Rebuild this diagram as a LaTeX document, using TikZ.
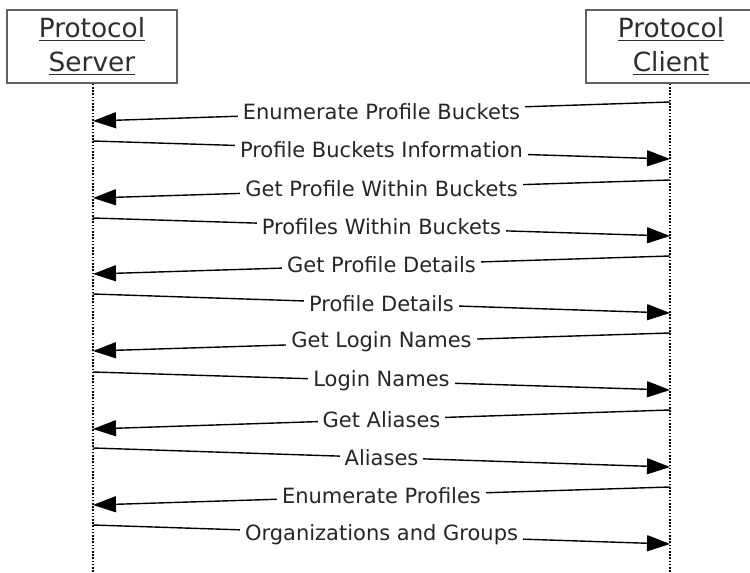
\documentclass[tikz,border=0pt]{standalone}
\usepackage{fontspec}
\setmainfont{DejaVu Sans}
\usetikzlibrary{arrows.meta}
\begin{document}
\begin{tikzpicture}[x=0.5pt,y=-0.5pt,
  actor/.style={draw=black!62,line width=0.75pt,minimum width=85pt,minimum height=36.5pt,align=center,font=\fontsize{13.2}{17}\selectfont,text=black!82,inner sep=0pt},
  lifeline/.style={line width=0.6pt,dash pattern=on 0.8pt off 0.8pt},
  msg/.style={line width=0.7pt,-{Triangle[length=11.5pt,width=8pt]}},
  lbl/.style={fill=white,inner xsep=2.5pt,inner ysep=1pt,font=\fontsize{10.5}{12}\selectfont,text=black!85}]
\clip (0,0) rectangle (750,573);
\node[actor] (S) at (92,46.5) {\underline{Protocol}\\\underline{Server}};
\node[actor] (C) at (671,46.5) {\underline{Protocol}\\\underline{Client}};
\coordinate (Sb) at (93,580);
\coordinate (Cb) at (670,580);
\draw[lifeline] (S.south -| Sb) -- (Sb);
\draw[lifeline] (C.south -| Cb) -- (Cb);
% message end points
\coordinate (c1) at (670,102); \coordinate (s1) at (93,121);
\coordinate (s2) at (93,141);  \coordinate (c2) at (670,159);
\coordinate (c3) at (670,180); \coordinate (s3) at (93,198);
\coordinate (s4) at (93,218);  \coordinate (c4) at (670,236);
\coordinate (c5) at (670,256); \coordinate (s5) at (93,274);
\coordinate (s6) at (93,294);  \coordinate (c6) at (670,313);
\coordinate (c7) at (670,333); \coordinate (s7) at (93,351);
\coordinate (s8) at (93,372);  \coordinate (c8) at (670,390);
\coordinate (c9) at (670,410); \coordinate (s9) at (93,429);
\coordinate (s10) at (93,448); \coordinate (c10) at (670,467);
\coordinate (c11) at (670,487); \coordinate (s11) at (93,505);
\coordinate (s12) at (93,525); \coordinate (c12) at (670,544);
\draw[msg] (c1) -- node[lbl] (l1) {Enumerate Profile Buckets} (s1);
\draw[msg] (s2) -- node[lbl] (l2) {Profile Buckets Information} (c2);
\draw[msg] (c3) -- node[lbl] (l3) {Get Profile Within Buckets} (s3);
\draw[msg] (s4) -- node[lbl] (l4) {Profiles Within Buckets} (c4);
\draw[msg] (c5) -- node[lbl] (l5) {Get Profile Details} (s5);
\draw[msg] (s6) -- node[lbl] (l6) {Profile Details} (c6);
\draw[msg] (c7) -- node[lbl] (l7) {Get Login Names} (s7);
\draw[msg] (s8) -- node[lbl] (l8) {Login Names} (c8);
\draw[msg] (c9) -- node[lbl] (l9) {Get Aliases} (s9);
\draw[msg] (s10) -- node[lbl] (l10) {Aliases} (c10);
\draw[msg] (c11) -- node[lbl] (l11) {Enumerate Profiles} (s11);
\draw[msg] (s12) -- node[lbl] (l12) {Organizations and Groups} (c12);
\end{tikzpicture}
\end{document}
